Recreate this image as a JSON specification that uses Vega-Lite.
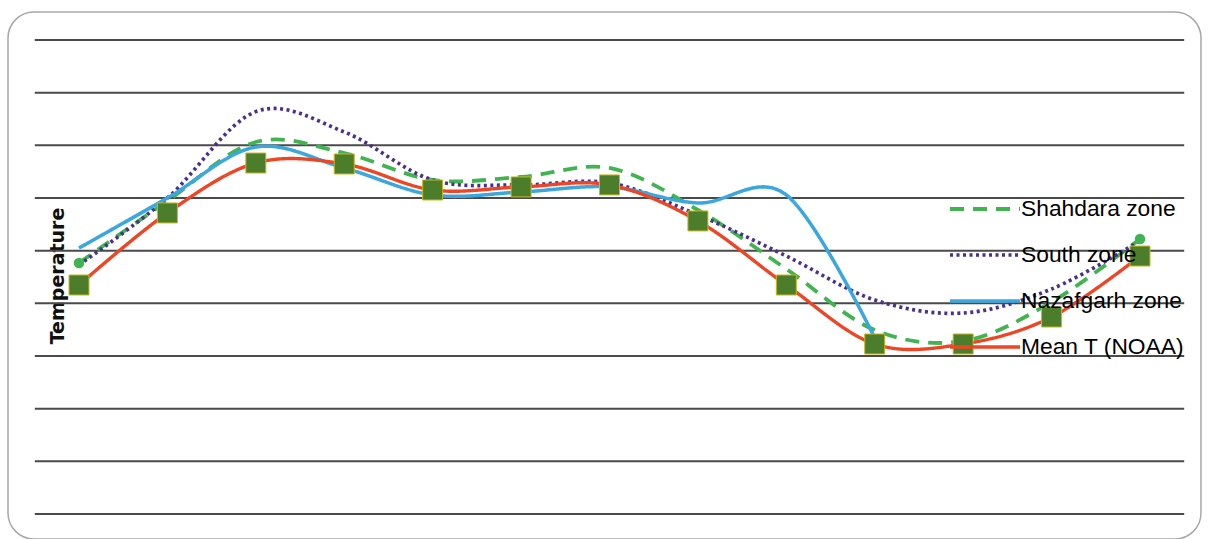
{
  "$schema": "https://vega.github.io/schema/vega-lite/v6.json",
  "width": 1193,
  "height": 527,
  "autosize": "none",
  "padding": {"left": 8, "top": 12, "right": 8, "bottom": 0},
  "background": "white",
  "config": {
    "view": {"stroke": "#a8a8a8", "strokeWidth": 1.5, "cornerRadius": 26},
    "font": "Liberation Sans"
  },
  "datasets": {
    "grid": [{"g": 0}, {"g": 5}, {"g": 10}, {"g": 15}, {"g": 20}, {"g": 25}, {"g": 30}, {"g": 35}, {"g": 40}, {"g": 45}],
    "temps": [
      {"zone": "Shahdara zone", "i": 1, "t": 23.83},
      {"zone": "Shahdara zone", "i": 2, "t": 29.72},
      {"zone": "Shahdara zone", "i": 3, "t": 35.32},
      {"zone": "Shahdara zone", "i": 4, "t": 34.27},
      {"zone": "Shahdara zone", "i": 5, "t": 31.71},
      {"zone": "Shahdara zone", "i": 6, "t": 32.0},
      {"zone": "Shahdara zone", "i": 7, "t": 32.85},
      {"zone": "Shahdara zone", "i": 8, "t": 28.86},
      {"zone": "Shahdara zone", "i": 9, "t": 23.26},
      {"zone": "Shahdara zone", "i": 10, "t": 17.47},
      {"zone": "Shahdara zone", "i": 11, "t": 16.42},
      {"zone": "Shahdara zone", "i": 12, "t": 20.13},
      {"zone": "Shahdara zone", "i": 13, "t": 26.11},
      {"zone": "South zone", "i": 1, "t": 23.64},
      {"zone": "South zone", "i": 2, "t": 30.0},
      {"zone": "South zone", "i": 3, "t": 38.2},
      {"zone": "South zone", "i": 4, "t": 36.27},
      {"zone": "South zone", "i": 5, "t": 31.71},
      {"zone": "South zone", "i": 6, "t": 31.24},
      {"zone": "South zone", "i": 7, "t": 31.43},
      {"zone": "South zone", "i": 8, "t": 28.39},
      {"zone": "South zone", "i": 9, "t": 24.49},
      {"zone": "South zone", "i": 10, "t": 20.32},
      {"zone": "South zone", "i": 11, "t": 19.08},
      {"zone": "South zone", "i": 12, "t": 21.36},
      {"zone": "South zone", "i": 13, "t": 25.92},
      {"zone": "Nazafgarh zone", "i": 1, "t": 25.25},
      {"zone": "Nazafgarh zone", "i": 2, "t": 30.0},
      {"zone": "Nazafgarh zone", "i": 3, "t": 34.84},
      {"zone": "Nazafgarh zone", "i": 4, "t": 32.85},
      {"zone": "Nazafgarh zone", "i": 5, "t": 30.29},
      {"zone": "Nazafgarh zone", "i": 6, "t": 30.57},
      {"zone": "Nazafgarh zone", "i": 7, "t": 31.05},
      {"zone": "Nazafgarh zone", "i": 8, "t": 29.53},
      {"zone": "Nazafgarh zone", "i": 9, "t": 30.29},
      {"zone": "Nazafgarh zone", "i": 10, "t": 16.71},
      {"zone": "Mean T (NOAA)", "i": 1, "t": 21.74},
      {"zone": "Mean T (NOAA)", "i": 2, "t": 28.58},
      {"zone": "Mean T (NOAA)", "i": 3, "t": 33.32},
      {"zone": "Mean T (NOAA)", "i": 4, "t": 33.23},
      {"zone": "Mean T (NOAA)", "i": 5, "t": 30.76},
      {"zone": "Mean T (NOAA)", "i": 6, "t": 31.05},
      {"zone": "Mean T (NOAA)", "i": 7, "t": 31.24},
      {"zone": "Mean T (NOAA)", "i": 8, "t": 27.82},
      {"zone": "Mean T (NOAA)", "i": 9, "t": 21.74},
      {"zone": "Mean T (NOAA)", "i": 10, "t": 16.14},
      {"zone": "Mean T (NOAA)", "i": 11, "t": 16.14},
      {"zone": "Mean T (NOAA)", "i": 12, "t": 18.7},
      {"zone": "Mean T (NOAA)", "i": 13, "t": 24.49}
    ]
  },
  "layer": [
    {
      "data": {"name": "grid"},
      "mark": {"type": "rule", "color": "#4a4a4a", "strokeWidth": 2},
      "encoding": {
        "y": {"field": "g", "type": "quantitative", "scale": {"domain": [-2.373, 47.658], "nice": false, "zero": false},
              "axis": {"title": "Temperature", "domain": false, "ticks": false, "labels": false, "grid": false,
                       "titleFont": "DejaVu Sans", "titleFontSize": 19, "titleFontWeight": "bold", "titleColor": "#111",
                       "titleAngle": -90, "titleX": 49, "titleBaseline": "middle", "titleAlign": "center"}},
        "x": {"datum": 0.5, "type": "quantitative", "scale": {"domain": [0.197, 13.69], "nice": false, "zero": false}, "axis": null},
        "x2": {"datum": 13.5}
      }
    },
    {
      "data": {"name": "temps"},
      "mark": {"type": "line", "interpolate": "cardinal"},
      "encoding": {
        "x": {"field": "i", "type": "quantitative"},
        "y": {"field": "t", "type": "quantitative"},
        "color": {"field": "zone", "type": "nominal",
                  "scale": {"domain": ["Shahdara zone", "South zone", "Nazafgarh zone", "Mean T (NOAA)"],
                            "range": ["#3fb44f", "#4a2f8f", "#3aa8df", "#ee4524"]},
                  "legend": {"title": null, "orient": "none", "legendX": 961, "legendY": 181,
                             "symbolType": "M-2.5,0H2.5", "symbolSize": 784, "symbolStrokeWidth": 3,
                             "labelFont": "Liberation Sans", "labelFontSize": 22.8, "labelColor": "#000",
                             "labelOffset": 20, "rowPadding": 18, "labelLimit": 300}},
        "strokeDash": {"field": "zone", "type": "nominal",
                       "scale": {"domain": ["Shahdara zone", "South zone", "Nazafgarh zone", "Mean T (NOAA)"],
                                 "range": [[14, 9], [3, 3.5], [1, 0], [1, 0]]}},
        "strokeWidth": {"field": "zone", "type": "nominal",
                        "scale": {"domain": ["Shahdara zone", "South zone", "Nazafgarh zone", "Mean T (NOAA)"],
                                  "range": [3.8, 3.4, 2.6, 2.6]}, "legend": null},
        "order": {"field": "i", "type": "quantitative"}
      }
    },
    {
      "data": {"name": "temps"},
      "transform": [{"filter": "datum.zone === 'Shahdara zone' && (datum.i === 1 || datum.i === 13)"}],
      "mark": {"type": "point", "shape": "circle", "filled": true, "size": 110, "color": "#3fb44f", "opacity": 1},
      "encoding": {
        "x": {"field": "i", "type": "quantitative"},
        "y": {"field": "t", "type": "quantitative"}
      }
    },
    {
      "data": {"name": "temps"},
      "transform": [{"filter": "datum.zone === 'Mean T (NOAA)'"}],
      "mark": {"type": "point", "shape": "square", "filled": true, "size": 400, "fill": "#4c7d2a", "stroke": "#c9b820", "strokeWidth": 1, "opacity": 1},
      "encoding": {
        "x": {"field": "i", "type": "quantitative"},
        "y": {"field": "t", "type": "quantitative"}
      }
    }
  ]
}
